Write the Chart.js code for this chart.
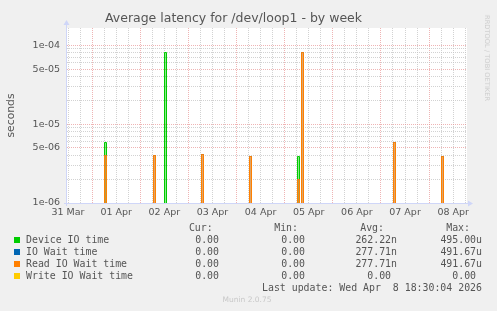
<!DOCTYPE html>
<html>
<head>
<meta charset="utf-8">
<script src="https://cdn.jsdelivr.net/npm/chart.js@4"></script>
<style>
  body { margin: 0; background: #f0f0f0; }
  #wrap { position: relative; width: 497px; height: 311px; overflow: hidden; }
  .mono { position: absolute; white-space: pre; font-family: 'DejaVu Sans Mono', monospace; font-size: 9.9px; line-height: 12px; height: 12px; color: #555; }
  .box { position: absolute; width: 6px; height: 6px; }
  .note { position: absolute; white-space: pre; font-family: 'DejaVu Sans', sans-serif; color: #c8c8c8; }
</style>
</head>
<body>
<div id="wrap">
  <canvas id="myChart" width="497" height="311"></canvas>
  <div id="legend"></div>
</div>
<script>
// x = hours since 31 Mar 00:00, values in seconds (30 min averages)
const hours     = [11.5, 30.2, 31.2, 54.6, 55.6, 60.1, 61.1, 78.55, 79.55, 102.48, 103.48, 126.4, 127.4, 128.4, 129.4, 174.26, 175.26, 198.19, 199.19, 210.9];
const deviceIO  = [0, 5.9e-6, 0, 0, 0, 8.2e-5, 0, 0, 0, 0, 0, 3.9e-6, 0, 0, 0, 0, 0, 0, 0, 0];
const ioWait    = [0, 4.0e-6, 0, 4.0e-6, 0, 0, 0, 4.1e-6, 0, 3.9e-6, 0, 2.0e-6, 0, 8.2e-5, 0, 5.9e-6, 0, 3.9e-6, 0, 0];
const readWait  = [0, 4.0e-6, 0, 4.0e-6, 0, 0, 0, 4.1e-6, 0, 3.9e-6, 0, 2.0e-6, 0, 8.2e-5, 0, 5.9e-6, 0, 3.9e-6, 0, 0];
const writeWait = [0, 0, 0, 0, 0, 0, 0, 0, 0, 0, 0, 0, 0, 0, 0, 0, 0, 0, 0, 0];

const xLabels = ['31 Mar', '01 Apr', '02 Apr', '03 Apr', '04 Apr', '05 Apr', '06 Apr', '07 Apr', '08 Apr'];
const yTicks = [1e-6, 2e-6, 3e-6, 4e-6, 5e-6, 6e-6, 7e-6, 8e-6, 9e-6,
                1e-5, 2e-5, 3e-5, 4e-5, 5e-5, 6e-5, 7e-5, 8e-5, 9e-5, 1e-4];
const yLabels = {'1e-6': '1e-06', '5e-6': '5e-06', '1e-5': '1e-05', '5e-5': '5e-05', '1e-4': '1e-04'};

const legendNames = ['Device IO time', 'IO Wait time', 'Read IO Wait time', 'Write IO Wait time'];
const seriesColors = ['#00cc00', '#0066b3', '#ff8000', '#ffcc00'];
const seriesFills = ['rgba(0,204,0,0.45)', 'rgba(0,102,179,0.3)', 'rgba(255,128,0,0.55)', 'rgba(255,204,0,0.45)'];
const curValues = ['0.00', '0.00', '0.00', '0.00'];
const minValues = ['0.00', '0.00', '0.00', '0.00'];
const avgValues = ['262.22n', '277.71n', '277.71n', '0.00 '];
const maxValues = ['495.00u', '491.67u', '491.67u', '0.00 '];

const X_MIN = 11.5, X_MAX = 210.9;
const Y_MIN = 1e-6, Y_MAX = 1.66e-4;
const RED = 'rgba(230,140,140,0.65)';
const GRAY = 'rgba(195,195,195,0.75)';
const AXIS = '#cfd6f8';

Chart.defaults.font.family = "'DejaVu Sans', sans-serif";
Chart.defaults.color = '#555';

const seriesValues = [deviceIO, ioWait, readWait, writeWait];

// log scale cannot show 0, rrdtool clips it to the bottom
const datasets = seriesValues.map((vals, i) => ({
  label: legendNames[i],
  data: vals.map((v, j) => ({x: hours[j], y: v > 0 ? v : Y_MIN})),
  borderColor: seriesColors[i],
  backgroundColor: seriesFills[i],
  borderWidth: 1,
  pointRadius: 0,
  stepped: 'before',
  fill: 'origin',
  order: 4 - i
}));

const gridHours = [];
for (let h = 12; h <= X_MAX; h += 6) gridHours.push(h);

// snap the line points to pixel centres so the 1px lines stay crisp
const crisp = {
  id: 'crisp',
  afterDatasetsUpdate(chart) {
    chart.getSortedVisibleDatasetMetas().forEach(meta => {
      meta.data.forEach(p => {
        p.x = Math.floor(p.x) + 0.5;
        p.y = Math.floor(p.y) + 0.5;
      });
    });
  }
};

const canvasBack = {
  id: 'canvasBack',
  beforeDraw(chart) {
    const {ctx, chartArea: a} = chart;
    ctx.save();
    ctx.fillStyle = '#fff';
    ctx.fillRect(a.left, a.top, a.right - a.left, a.bottom - a.top);
    ctx.restore();
  },
  beforeDatasetsDraw(chart) {
    const {ctx, chartArea: a} = chart;
    ctx.save();
    ctx.strokeStyle = AXIS;
    ctx.fillStyle = AXIS;
    ctx.lineWidth = 1;
    ctx.beginPath();
    ctx.moveTo(a.left - 0.5, a.bottom + 3);
    ctx.lineTo(a.left - 0.5, a.top - 3);
    ctx.moveTo(a.left - 3, a.bottom + 0.5);
    ctx.lineTo(a.right + 2, a.bottom + 0.5);
    ctx.stroke();
    ctx.beginPath();
    ctx.moveTo(a.left - 3.5, a.top - 3);
    ctx.lineTo(a.left + 2.5, a.top - 3);
    ctx.lineTo(a.left - 0.5, a.top - 8);
    ctx.closePath();
    ctx.fill();
    ctx.beginPath();
    ctx.moveTo(a.right + 1, a.bottom - 2.5);
    ctx.lineTo(a.right + 1, a.bottom + 3.5);
    ctx.lineTo(a.right + 6, a.bottom + 0.5);
    ctx.closePath();
    ctx.fill();
    ctx.restore();
  }
};

new Chart('myChart', {
  type: 'line',
  data: { datasets: datasets },
  plugins: [canvasBack, crisp],
  options: {
    responsive: false,
    animation: false,
    layout: { padding: { left: 0, right: 30, top: 0, bottom: 0 } },
    plugins: {
      legend: { display: false },
      tooltip: { enabled: false },
      title: {
        display: true,
        text: 'Average latency for /dev/loop1 - by week',
        color: '#555',
        font: { size: 12.5, weight: 'normal', lineHeight: 1.2 },
        padding: { top: 11, bottom: 2 }
      }
    },
    scales: {
      x: {
        type: 'linear',
        min: X_MIN,
        max: X_MAX,
        afterFit: s => { s.height = 108; },
        afterBuildTicks: s => { s.ticks = gridHours.map(v => ({value: v})); },
        grid: {
          color: c => (c.tick && c.tick.value % 24 === 0) ? RED : GRAY,
          lineWidth: 1,
          drawTicks: false
        },
        border: { display: false, dash: [1, 1] },
        ticks: {
          autoSkip: false,
          maxRotation: 0,
          padding: 4,
          font: { size: 9.5 },
          color: '#555',
          callback: v => ((v - 12) % 24 === 0) ? xLabels[(v - 12) / 24] : ''
        }
      },
      y: {
        type: 'logarithmic',
        min: Y_MIN,
        max: Y_MAX,
        afterFit: s => { s.width = 67; },
        afterBuildTicks: s => { s.ticks = yTicks.map(v => ({value: v})); },
        grid: {
          color: c => (c.tick && yLabels[c.tick.value.toExponential(0).replace('+', '')]) ? RED : GRAY,
          lineWidth: 1,
          drawTicks: false
        },
        border: { display: false, dash: [1, 1] },
        title: {
          display: true,
          text: 'seconds',
          color: '#555',
          font: { size: 10.8 },
          padding: { top: 4.5, bottom: 0 }
        },
        ticks: {
          autoSkip: false,
          padding: 7,
          font: { size: 9.5 },
          color: '#555',
          callback: v => yLabels[Number(v).toExponential(0).replace('+', '')] || ''
        }
      }
    }
  }
});

// legend table under the plot, as munin prints it
const legend = document.getElementById('legend');
function put(txt, yc, left, right) {
  const d = document.createElement('div');
  d.className = 'mono';
  d.textContent = txt;
  d.style.top = (yc - 6) + 'px';
  if (right !== undefined) { d.style.right = (497 - right) + 'px'; d.style.textAlign = 'right'; }
  else d.style.left = left + 'px';
  legend.appendChild(d);
}
const headY = 228.3;
put('Cur:', headY, undefined, 212.7);
put('Min:', headY, undefined, 298);
put('Avg:', headY, undefined, 384);
put('Max:', headY, undefined, 470);
legendNames.forEach((name, i) => {
  const yc = 239.7 + i * 12;
  const b = document.createElement('div');
  b.className = 'box';
  b.style.left = '14px';
  b.style.top = (yc - 3) + 'px';
  b.style.background = seriesColors[i];
  legend.appendChild(b);
  put(name, yc, 26);
  put(curValues[i], yc, undefined, 219);
  put(minValues[i], yc, undefined, 305);
  put(avgValues[i], yc, undefined, 397);
  put(maxValues[i], yc, undefined, 482);
});
put('Last update: Wed Apr  8 18:30:04 2026', 287.7, 262);

const footer = document.createElement('div');
footer.className = 'note';
footer.textContent = 'Munin 2.0.75';
footer.style.cssText += 'left:0;width:494px;text-align:center;top:295px;font-size:7.5px;line-height:10px;';
legend.appendChild(footer);

const brand = document.createElement('div');
brand.className = 'note';
brand.textContent = 'RRDTOOL / TOBI OETIKER';
brand.style.cssText += 'left:486.5px;top:58px;font-size:6.7px;line-height:8px;color:#cccccc;transform:translate(-50%,-50%) rotate(90deg);';
legend.appendChild(brand);
</script>
</body>
</html>
